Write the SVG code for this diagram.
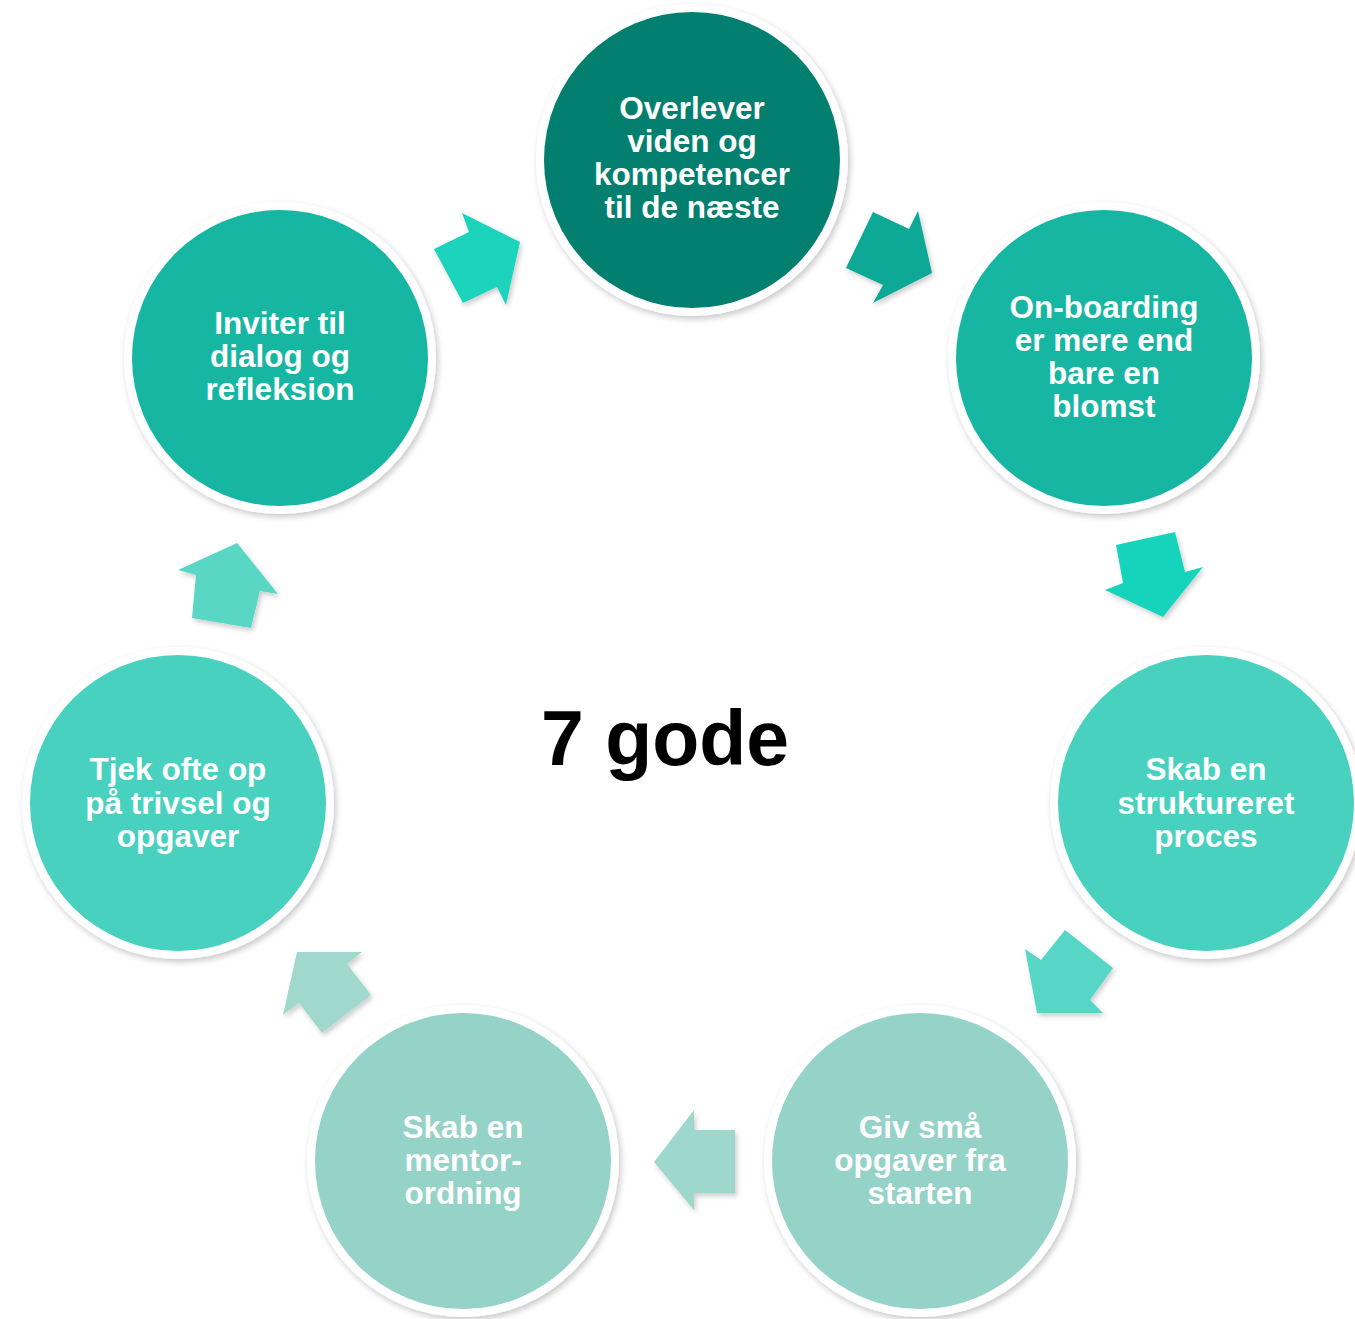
<svg xmlns="http://www.w3.org/2000/svg" width="1355" height="1319" viewBox="0 0 1355 1319">
<defs>
<filter id="sh" x="-20%" y="-20%" width="140%" height="140%">
<feDropShadow dx="2" dy="3" stdDeviation="3" flood-color="#000" flood-opacity="0.22"/>
</filter>
<filter id="ash" x="-20%" y="-20%" width="140%" height="140%">
<feDropShadow dx="2" dy="3" stdDeviation="2.5" flood-color="#000" flood-opacity="0.2"/>
</filter>
</defs>
<style>
.ring{fill:#ffffff;filter:url(#sh)}
.lbl{font-family:"Liberation Sans",Arial,sans-serif;font-weight:bold;font-size:31.5px;fill:#ffffff;text-anchor:middle}
.c1{fill:#037F70}
.c2{fill:#17B6A3}
.c3{fill:#48D1BF}
.c4{fill:#95D2C7}
.arr{filter:url(#ash)}
</style>
<rect width="1355" height="1319" fill="#ffffff"/>
<g id="connectors">
<polygon class="arr" fill="#1AD3BC" points="434,249 469,232 462,213 520,242 506,305 497,287 463,303"/>
<polygon class="arr" fill="#09A896" points="873,212 909,229 918,211 932,273 873,303 883,285 846,268"/>
<polygon class="arr" fill="#19D3BC" points="1116,545 1175,532 1185,572 1203,567 1163,617 1105,590 1123,583"/>
<polygon class="arr" fill="#59D6C5" points="1065,930 1113,968 1090,1000 1103,1013 1037,1013 1025,949 1041,960"/>
<polygon class="arr" fill="#9ED7CC" points="735,1130 735,1193 694,1193 694,1210 654,1162 694,1110 694,1130"/>
<polygon class="arr" fill="#A0D8CD" points="297,952 362,952 347,964 371,995 322,1033 299,1003 283,1015"/>
<polygon class="arr" fill="#5AD6C5" points="237,543 278,594 260,591 251,628 192,618 196,575 178,570"/>
</g>
<g id="node1">
<circle class="ring" cx="692" cy="160" r="156"/>
<circle class="c1" cx="692" cy="160" r="148"/>
<text class="lbl"><tspan x="692" y="119">Overlever</tspan><tspan x="692" y="152">viden og</tspan><tspan x="692" y="185">kompetencer</tspan><tspan x="692" y="218">til de næste</tspan></text>
</g>
<g id="node2">
<circle class="ring" cx="1104" cy="358" r="156"/>
<circle class="c2" cx="1104" cy="358" r="148"/>
<text class="lbl"><tspan x="1104" y="318">On-boarding</tspan><tspan x="1104" y="351">er mere end</tspan><tspan x="1104" y="384">bare en</tspan><tspan x="1104" y="417">blomst</tspan></text>
</g>
<g id="node3">
<circle class="ring" cx="1206" cy="803" r="156"/>
<circle class="c3" cx="1206" cy="803" r="148"/>
<text class="lbl"><tspan x="1206" y="780">Skab en</tspan><tspan x="1206" y="814">struktureret</tspan><tspan x="1206" y="847">proces</tspan></text>
</g>
<g id="node4">
<circle class="ring" cx="920" cy="1161" r="156"/>
<circle class="c4" cx="920" cy="1161" r="148"/>
<text class="lbl"><tspan x="920" y="1138">Giv små</tspan><tspan x="920" y="1171">opgaver fra</tspan><tspan x="920" y="1204">starten</tspan></text>
</g>
<g id="node5">
<circle class="ring" cx="463" cy="1161" r="156"/>
<circle class="c4" cx="463" cy="1161" r="148"/>
<text class="lbl"><tspan x="463" y="1138">Skab en</tspan><tspan x="463" y="1171">mentor-</tspan><tspan x="463" y="1204">ordning</tspan></text>
</g>
<g id="node6">
<circle class="ring" cx="178" cy="803" r="156"/>
<circle class="c3" cx="178" cy="803" r="148"/>
<text class="lbl"><tspan x="178" y="780">Tjek ofte op</tspan><tspan x="178" y="814">på trivsel og</tspan><tspan x="178" y="847">opgaver</tspan></text>
</g>
<g id="node7">
<circle class="ring" cx="280" cy="358" r="156"/>
<circle class="c2" cx="280" cy="358" r="148"/>
<text class="lbl"><tspan x="280" y="334">Inviter til</tspan><tspan x="280" y="367">dialog og</tspan><tspan x="280" y="400">refleksion</tspan></text>
</g>
<g id="title">
<text x="665" y="765" font-family="Liberation Sans, Arial, sans-serif" font-weight="bold" font-size="77" fill="#000000" text-anchor="middle">7 gode</text>
</g>
</svg>
